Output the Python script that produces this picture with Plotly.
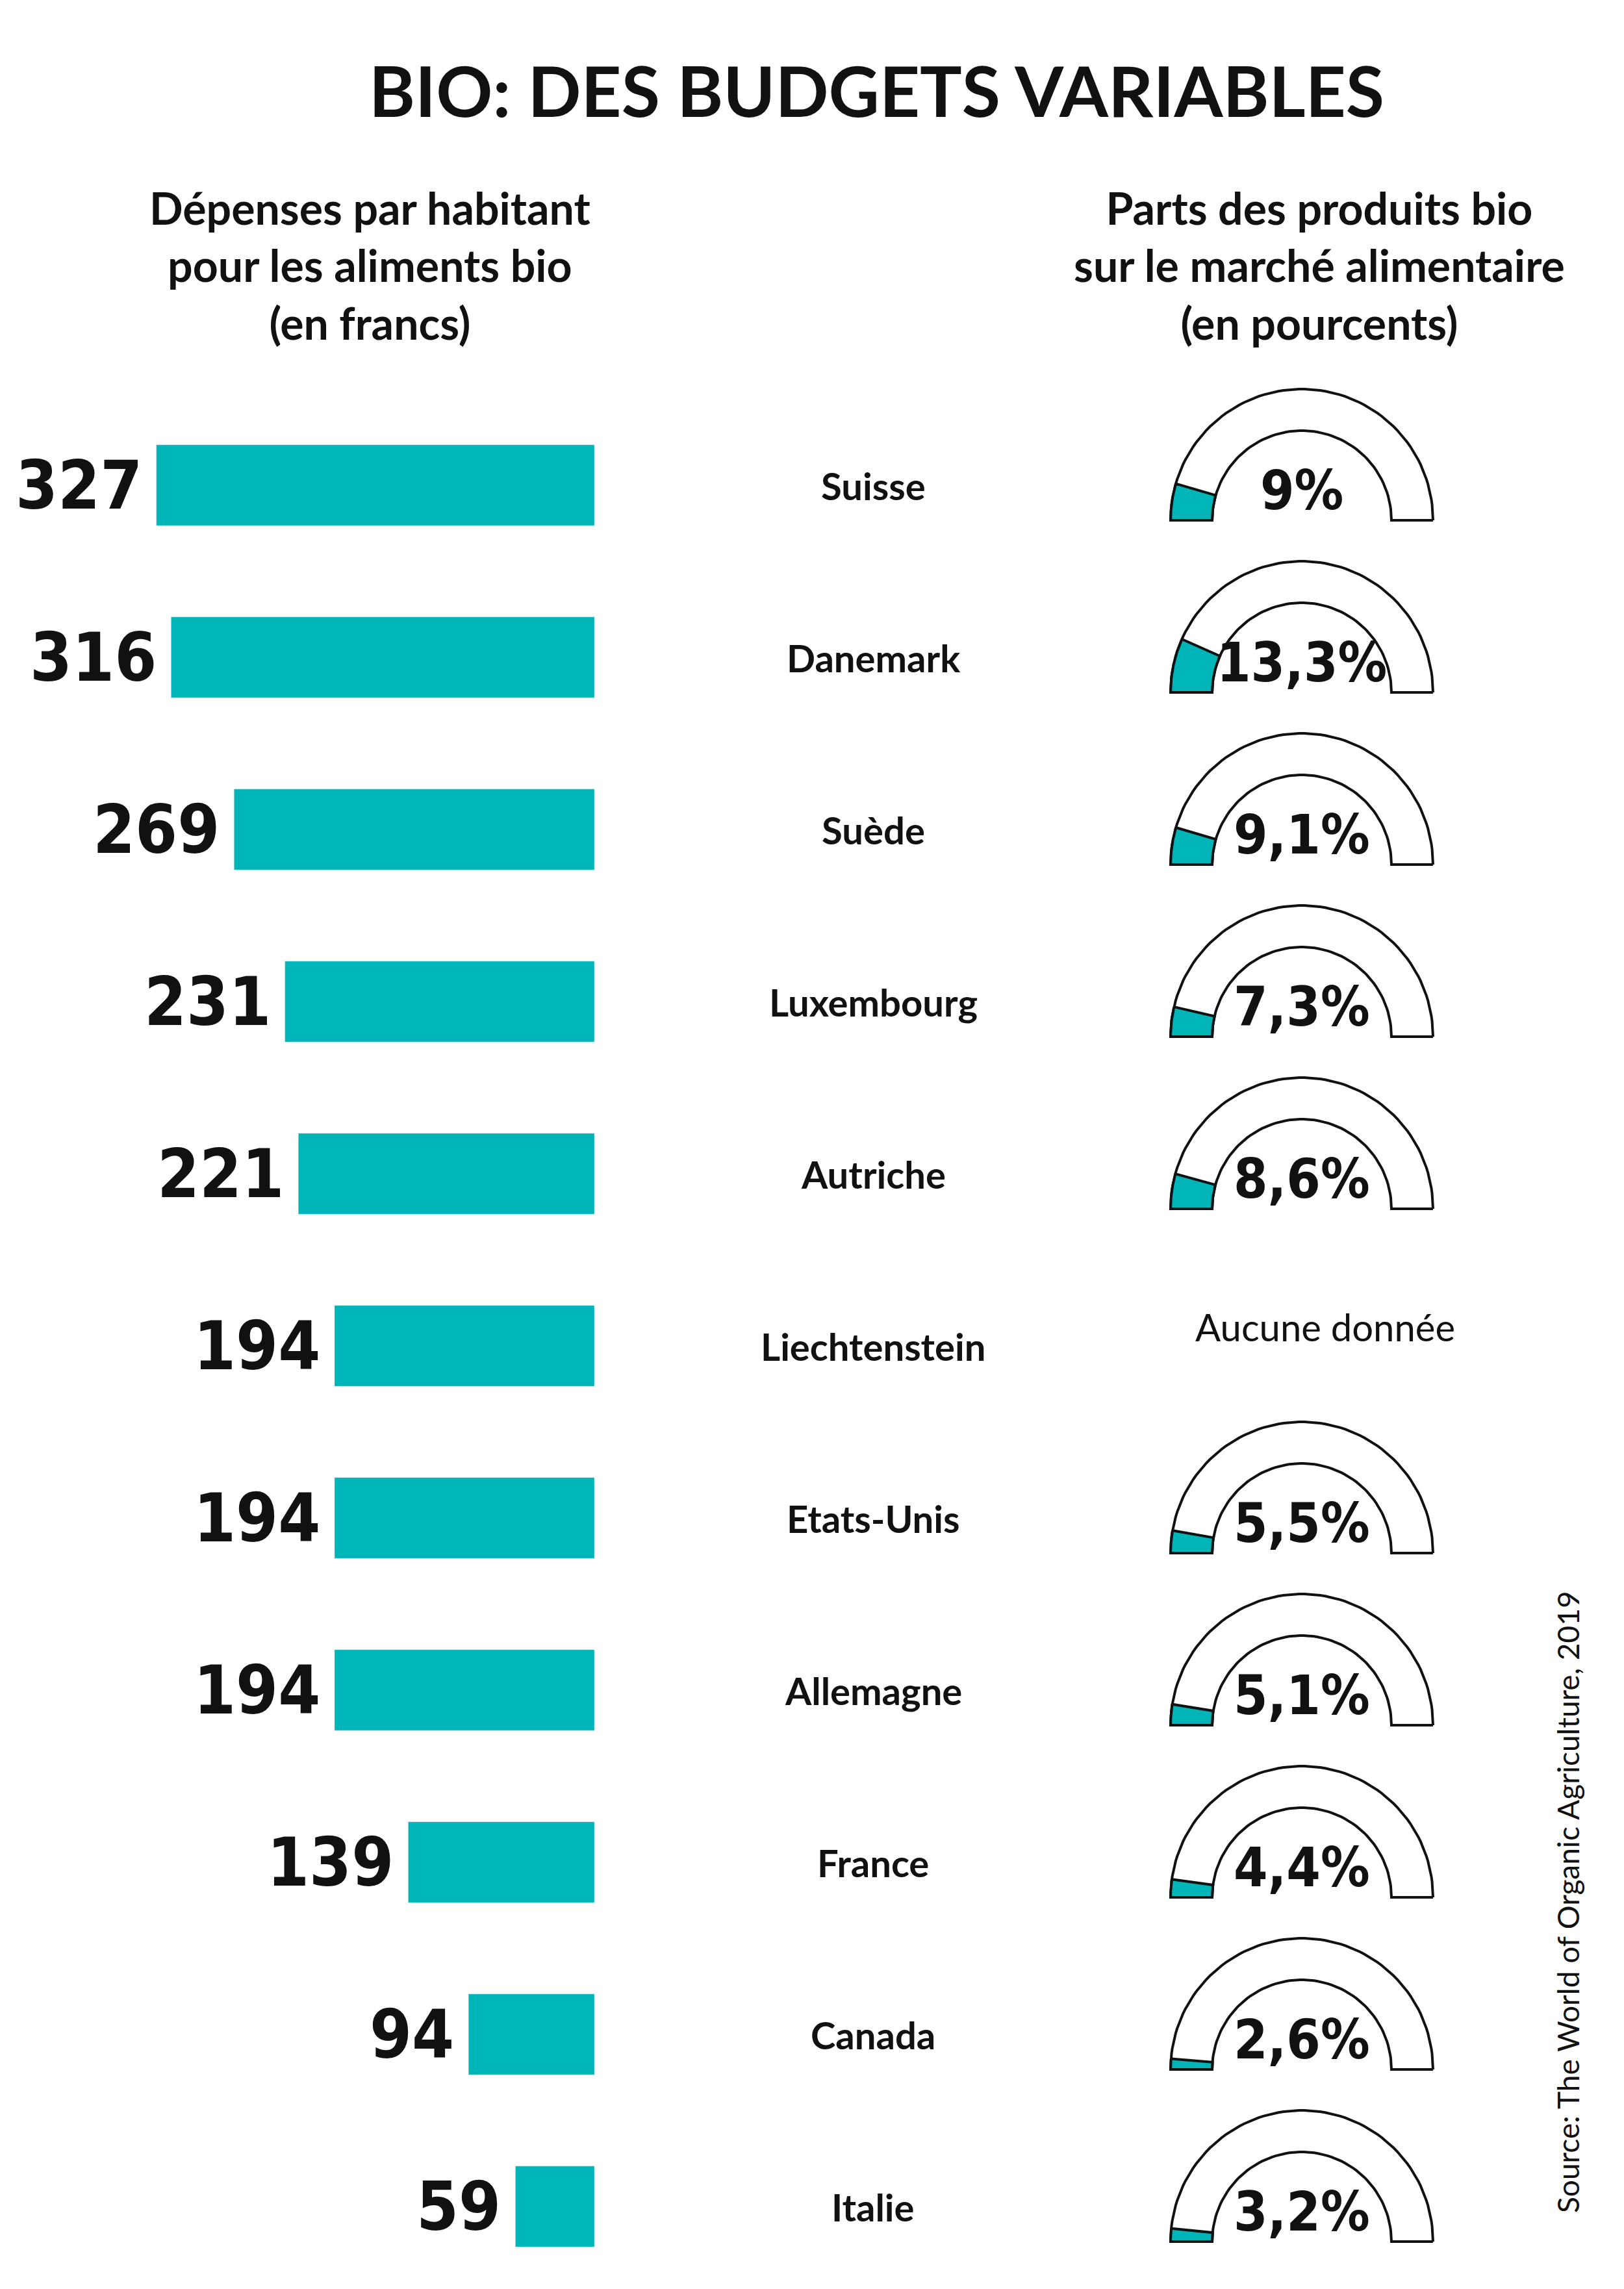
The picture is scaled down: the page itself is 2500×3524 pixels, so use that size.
import numpy as np
import plotly.graph_objects as go

# data
countries = ["Suisse", "Danemark", "Suède", "Luxembourg", "Autriche", "Liechtenstein",
             "Etats-Unis", "Allemagne", "France", "Canada", "Italie"]
spending = [327, 316, 269, 231, 221, 194, 194, 194, 139, 94, 59]
share = [9, 13.3, 9.1, 7.3, 8.6, None, 5.5, 5.1, 4.4, 2.6, 3.2]
share_labels = ["9%", "13,3%", "9,1%", "7,3%", "8,6%", None, "5,5%", "5,1%", "4,4%", "2,6%", "3,2%"]

W, H = 2500, 3524
ROW0, ROWH = 739, 265          # pixel position of first row, row spacing
TEAL = "#00B5B8"
NUM_FONT = "Liberation Sans Narrow, DejaVu Sans Condensed, sans-serif"
TXT_FONT = "Lato, Open Sans, sans-serif"

rows = list(range(len(countries)))
yr = [(H - ROW0) / ROWH, -ROW0 / ROWH]

fig = go.Figure()

# bars (x axis reversed so 0 sits at the right edge)
fig.add_trace(go.Bar(x=spending, y=rows, orientation="h", marker_color=TEAL,
                     width=0.47, hoverinfo="skip", xaxis="x", yaxis="y"))

# gauges on pixel x axis (x2), row y axis
CX, RO, RI, BASE = 1996, 202, 138, 54


def ring(a0, a1, r_out, r_in, row):
    t = np.linspace(np.radians(a0), np.radians(a1), 80)
    xs = list(CX + r_out * np.cos(t)) + list(CX + r_in * np.cos(t[::-1]))
    ys = list(row + (BASE - r_out * np.sin(t)) / ROWH) + list(row + (BASE - r_in * np.sin(t[::-1])) / ROWH)
    return xs + [xs[0]], ys + [ys[0]]


for i, v in enumerate(share):
    if v is None:
        continue
    xs, ys = ring(0, 180, RO, RI, i)
    fig.add_trace(go.Scatter(x=xs, y=ys, fill="toself", fillcolor="white", mode="lines",
                             line=dict(color="#111", width=4), hoverinfo="skip",
                             xaxis="x2", yaxis="y"))
    xs, ys = ring(180 - v / 100 * 180, 180, RO, RI, i)
    fig.add_trace(go.Scatter(x=xs, y=ys, fill="toself", fillcolor=TEAL, mode="lines",
                             line=dict(color="#111", width=4), hoverinfo="skip",
                             xaxis="x2", yaxis="y"))
    fig.add_annotation(x=CX, y=i + 8 / ROWH, xref="x2", yref="y", text="<b>%s</b>" % share_labels[i],
                       showarrow=False, font=dict(family=NUM_FONT, size=84, color="#111"))

for i, (c, v) in enumerate(zip(countries, spending)):
    fig.add_annotation(x=v, y=i, xref="x", yref="y", text="<b>%d</b>" % v, xanchor="right",
                       xshift=-20, showarrow=False, font=dict(family=NUM_FONT, size=104, color="#111"))
    fig.add_annotation(x=1336, y=i, xref="x2", yref="y", text="<b>%s</b>" % c,
                       showarrow=False, font=dict(family=TXT_FONT, size=58, color="#111"))
    if share[i] is None:
        fig.add_annotation(x=CX + 36, y=i - 30 / ROWH, xref="x2", yref="y", text="Aucune donnée",
                           showarrow=False, font=dict(family=TXT_FONT, size=58, color="#111"))

# titles
def paper_text(x, y, text, size, angle=0):
    fig.add_annotation(x=x / W, y=1 - y / H, xref="paper", yref="paper", text=text,
                       xanchor="center", yanchor="middle", textangle=angle, showarrow=False,
                       font=dict(family=TXT_FONT, size=size, color="#111"))


paper_text(1341, 130, "<b>BIO: DES BUDGETS VARIABLES</b>", 108)
paper_text(561, 400, "<b>Dépenses par habitant<br>pour les aliments bio<br>(en francs)</b>", 68)
paper_text(2023, 400, "<b>Parts des produits bio<br>sur le marché alimentaire<br>(en pourcents)</b>", 68)
paper_text(2405, 2920, "Source: The World of Organic Agriculture, 2019", 46, -90)

hidden = dict(visible=False, showgrid=False, zeroline=False, fixedrange=True)
fig.update_layout(
    width=W, height=H, margin=dict(l=0, r=0, t=0, b=0),
    paper_bgcolor="white", plot_bgcolor="rgba(0,0,0,0)", showlegend=False,
    xaxis=dict(hidden, domain=[0, 907 / W], range=[439.8, 0], anchor="y"),
    xaxis2=dict(hidden, domain=[0, 1], range=[0, W], anchor="y"),
    yaxis=dict(hidden, domain=[0, 1], range=yr),
)

fig.write_html("out.html")
